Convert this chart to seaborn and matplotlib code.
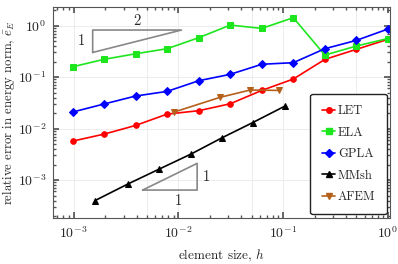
import numpy as np
import pandas as pd
import matplotlib
matplotlib.use("Agg")
import matplotlib.pyplot as plt
from matplotlib.lines import Line2D
import seaborn as sns

# ---- data ----
h_uni = [2.0 ** -k for k in range(10, -1, -1)]          # 1/1024 ... 1
let_err = [0.0057, 0.0078, 0.0115, 0.0191, 0.0222, 0.0303, 0.055, 0.0915, 0.22, 0.345, 0.54]
ela_err = [0.158, 0.221, 0.283, 0.355, 0.58, 1.02, 0.88, 1.42, 0.267, 0.40, 0.56]
gpla_err = [0.0209, 0.030, 0.0428, 0.0527, 0.0848, 0.113, 0.177, 0.19, 0.355, 0.515, 0.855]
mmsh_h = [0.0016, 0.0033, 0.0065, 0.0132, 0.026, 0.051, 0.104]
mmsh_err = [4.0e-4, 8.4e-4, 1.62e-3, 3.2e-3, 6.6e-3, 1.3e-2, 2.73e-2]
afem_h = [0.0091, 0.0249, 0.0485, 0.0906]
afem_err = [0.0209, 0.0403, 0.056, 0.055]

methods = ["LET", "ELA", "GPLA", "MMsh", "AFEM"]
colors = {"LET": "#ff0000", "ELA": "#1ee61e", "GPLA": "#0000ff",
          "MMsh": "#000000", "AFEM": "#b5601a"}
markers = {"LET": "o", "ELA": "s", "GPLA": "D", "MMsh": "^", "AFEM": "v"}

# slope triangles (x0, x1, y0, y1)
tri_top = (0.00152, 0.0107, 0.30, 0.818)
tri_bot = (0.00456, 0.0151, 6.4e-4, 2.11e-3)

rows = []
for m, hs, es in [("LET", h_uni, let_err), ("ELA", h_uni, ela_err), ("GPLA", h_uni, gpla_err),
                  ("MMsh", mmsh_h, mmsh_err), ("AFEM", afem_h, afem_err)]:
    rows += [{"method": m, "h": x, "err": y} for x, y in zip(hs, es)]
df = pd.DataFrame(rows)

sns.set_theme(style="ticks")
plt.rcParams.update({
    "font.family": "serif", "font.serif": ["cmr10", "DejaVu Serif"],
    "mathtext.fontset": "cm", "axes.unicode_minus": False,
    "axes.formatter.use_mathtext": True, "font.size": 9,
})

fig = plt.figure(figsize=(3.98, 2.64), dpi=100)
ax = fig.add_axes([0.134, 0.174, 0.847, 0.798])

sns.lineplot(data=df, x="h", y="err", hue="method", style="method", hue_order=methods,
             style_order=methods, palette=colors, markers=markers, dashes=False,
             estimator=None, sort=True, legend=False, linewidth=1.2, markersize=4, ax=ax)
for ln in ax.lines:
    ln.set_markeredgecolor(ln.get_color())
    ln.set_markerfacecolor(ln.get_color())

ax.set_xscale("log"); ax.set_yscale("log")
ax.set_xlim(6.4e-4, 1.057)
ax.set_ylim(1.83e-4, 2.25)

for x in [1e-3, 5e-3, 1e-2, 5e-2, 1e-1, 5e-1]:
    ax.axvline(x, color="#ececec", lw=0.7, zorder=0)
for y in [1e-3, 1e-2, 1e-1, 1e0]:
    ax.axhline(y, color="#ececec", lw=0.7, zorder=0)

# slope triangles
g = "#888888"
x0, x1, y0, y1 = tri_top
ax.plot([x0, x0, x1, x0], [y0, y1, y1, y0], color=g, lw=1.2)
ax.text(x0 * 0.85, np.sqrt(y0 * y1), "1", ha="right", va="center", fontsize=10.5)
ax.text(np.sqrt(x0 * x1), y1 * 1.1, "2", ha="center", va="bottom", fontsize=10.5)
x0, x1, y0, y1 = tri_bot
ax.plot([x0, x1, x1, x0], [y0, y0, y1, y0], color=g, lw=1.2)
ax.text(x1 * 1.12, np.sqrt(y0 * y1), "1", ha="left", va="center", fontsize=10.5)
ax.text(np.sqrt(x0 * x1) * 1.2, y0 * 0.82, "1", ha="center", va="top", fontsize=10.5)

ax.tick_params(which="both", direction="in", top=True, right=True, color="#555555")
ax.tick_params(which="major", length=4, labelsize=10, pad=5)
ax.tick_params(which="minor", length=2)
for s in ax.spines.values():
    s.set_color("#555555"); s.set_linewidth(0.8)

ax.set_xlabel("element size, $h$", fontsize=9.5, labelpad=5)
ax.set_ylabel(r"relative error in energy norm, $\bar{e}_E$", fontsize=9.2, labelpad=1)

handles = [Line2D([], [], color=colors[m], marker=markers[m], lw=1.2, ms=4,
                  mec=colors[m]) for m in methods]
leg = ax.legend(handles, methods, loc="lower right", fontsize=9, frameon=True,
                fancybox=True, handlelength=1.1, handletextpad=0.2, labelspacing=0.75,
                borderpad=0.9, borderaxespad=0.3)
leg.get_frame().set_edgecolor("#222222")
leg.get_frame().set_linewidth(1.0)
leg.get_frame().set_alpha(1)

fig.savefig("out.png", dpi=100)
